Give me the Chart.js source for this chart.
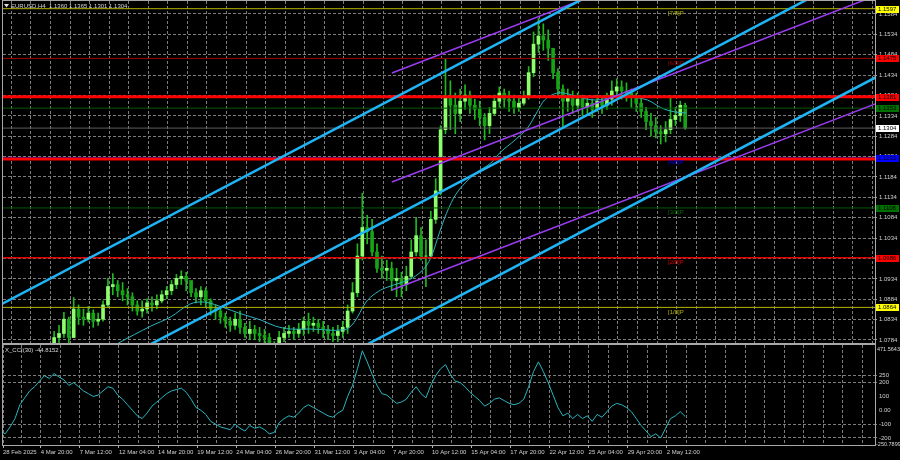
<!DOCTYPE html>
<html>
<head>
<meta charset="utf-8">
<script src="https://cdn.jsdelivr.net/npm/chart.js@4.4.0/dist/chart.umd.min.js"></script>
<style>
  html, body { margin: 0; padding: 0; background: #000; }
  #wrap { position: relative; width: 900px; height: 460px; overflow: hidden; background: #000; }
  canvas { position: absolute; left: 0; }
  #main { top: 0; }
  #cci { top: 344px; }
</style>
</head>
<body>
<div id="wrap">
  <canvas id="main" width="900" height="344"></canvas>
  <canvas id="cci" width="900" height="116"></canvas>
</div>
<script>
// velas de 8h (duas barras H4)
const firstOpen = 1.0385;
const closes = [
  1.0400,1.0395,1.0380,1.0420,1.0470,1.0485,1.0500,1.0560,1.0620,1.0640,
  1.0720,1.0790,1.0800,1.0835,1.0790,1.0860,1.0840,1.0835,1.0850,1.0830,
  1.0835,1.0870,1.0915,1.0920,1.0905,1.0895,1.0890,1.0870,1.0855,1.0860,
  1.0875,1.0870,1.0880,1.0895,1.0905,1.0920,1.0935,1.0940,1.0930,1.0900,
  1.0890,1.0905,1.0880,1.0860,1.0855,1.0840,1.0830,1.0820,1.0835,1.0815,
  1.0800,1.0810,1.0800,1.0795,1.0790,1.0770,1.0760,1.0790,1.0800,1.0805,
  1.0800,1.0810,1.0830,1.0820,1.0825,1.0815,1.0810,1.0800,1.0795,1.0805,
  1.0815,1.0855,1.0900,1.0990,1.1060,1.1050,1.1000,1.0960,1.0955,1.0960,
  1.0930,1.0935,1.0920,1.0940,1.1000,1.1040,1.0990,1.0990,1.1080,1.1150,
  1.1300,1.1380,1.1360,1.1340,1.1370,1.1385,1.1360,1.1350,1.1330,1.1310,
  1.1340,1.1370,1.1390,1.1375,1.1370,1.1355,1.1365,1.1380,1.1440,1.1510,
  1.1530,1.1520,1.1500,1.1440,1.1400,1.1370,1.1380,1.1360,1.1375,1.1355,
  1.1365,1.1350,1.1370,1.1360,1.1375,1.1395,1.1405,1.1395,1.1390,1.1380,
  1.1365,1.1345,1.1320,1.1310,1.1295,1.1290,1.1300,1.1325,1.1335,1.1360,
  1.1304
];
const highs = [
  1.0420,1.0415,1.0405,1.0430,1.0490,1.0500,1.0520,1.0580,1.0630,1.0665,
  1.0740,1.0805,1.0820,1.0852,1.0840,1.0888,1.0870,1.0860,1.0866,1.0858,
  1.0850,1.0880,1.0935,1.0947,1.0930,1.0925,1.0910,1.0900,1.0880,1.0880,
  1.0885,1.0890,1.0895,1.0905,1.0915,1.0930,1.0945,1.0954,1.0950,1.0925,
  1.0910,1.0915,1.0912,1.0885,1.0870,1.0865,1.0850,1.0840,1.0850,1.0855,
  1.0825,1.0830,1.0820,1.0815,1.0810,1.0800,1.0780,1.0805,1.0815,1.0820,
  1.0815,1.0825,1.0840,1.0850,1.0840,1.0835,1.0830,1.0820,1.0815,1.0820,
  1.0830,1.0870,1.0925,1.1020,1.1144,1.1090,1.1080,1.1020,1.0990,1.0980,
  1.0975,1.0960,1.0950,1.0965,1.1030,1.1085,1.1060,1.1030,1.1100,1.1180,
  1.1310,1.1473,1.1420,1.1390,1.1400,1.1410,1.1395,1.1375,1.1370,1.1340,
  1.1355,1.1385,1.1405,1.1400,1.1395,1.1385,1.1380,1.1395,1.1455,1.1540,
  1.1573,1.1560,1.1545,1.1500,1.1450,1.1410,1.1400,1.1395,1.1390,1.1385,
  1.1380,1.1375,1.1385,1.1380,1.1390,1.1420,1.1425,1.1420,1.1415,1.1400,
  1.1390,1.1375,1.1355,1.1340,1.1330,1.1310,1.1320,1.1378,1.1355,1.1370,
  1.1365
];
const lows = [
  1.0375,1.0370,1.0360,1.0375,1.0415,1.0455,1.0470,1.0495,1.0550,1.0600,
  1.0630,1.0715,1.0775,1.0790,1.0770,1.0790,1.0822,1.0820,1.0828,1.0815,
  1.0820,1.0830,1.0865,1.0895,1.0890,1.0880,1.0870,1.0855,1.0845,1.0840,
  1.0850,1.0855,1.0860,1.0875,1.0885,1.0895,1.0910,1.0920,1.0905,1.0890,
  1.0875,1.0870,1.0865,1.0845,1.0835,1.0825,1.0815,1.0805,1.0810,1.0800,
  1.0790,1.0785,1.0785,1.0780,1.0775,1.0755,1.0745,1.0760,1.0780,1.0790,
  1.0785,1.0790,1.0795,1.0800,1.0805,1.0800,1.0790,1.0785,1.0780,1.0780,
  1.0790,1.0800,1.0850,1.0890,1.0980,1.1020,1.0990,1.0950,1.0935,1.0930,
  1.0905,1.0890,1.0890,1.0905,1.0935,1.0990,1.0980,1.0915,1.0985,1.1070,
  1.1140,1.1290,1.1300,1.1290,1.1320,1.1350,1.1340,1.1325,1.1310,1.1275,
  1.1290,1.1335,1.1355,1.1355,1.1345,1.1340,1.1345,1.1360,1.1375,1.1430,
  1.1490,1.1495,1.1470,1.1425,1.1380,1.1307,1.1345,1.1340,1.1345,1.1335,
  1.1340,1.1330,1.1345,1.1340,1.1350,1.1360,1.1380,1.1375,1.1370,1.1355,
  1.1345,1.1330,1.1300,1.1285,1.1280,1.1265,1.1270,1.1290,1.1310,1.1320,
  1.1301
];

// média móvel (barra H4, preço)
const maBars = [40,49,62,70,78,84,92,98,107,113,119,127,141,145,150,154,158,164,169,174,
  177,180,184,188,195,201,205,211,216,220,223,227,231,238,244,251,258,265,271,276,281];
const maValues = [1.0745,1.0777,1.0818,1.0840,1.0872,1.0877,1.0863,1.0850,1.0833,1.0818,
  1.0811,1.0811,1.0809,1.0826,1.0877,1.0899,1.0912,1.0924,1.0936,1.0961,
  1.0993,1.1047,1.1110,1.1152,1.1194,1.1218,1.1245,1.1275,1.1304,1.1344,
  1.1373,1.1388,1.1390,1.1378,1.1373,1.1380,1.1380,1.1373,1.1353,1.1344,1.1341];

// CCI(30), um valor por vela de 8h
const cciValues = [
  -150,-170,-120,-60,40,90,140,170,210,250,
  230,265,240,220,180,200,170,140,120,100,
  110,140,170,160,110,80,40,0,-40,-60,
  -20,30,60,90,120,140,150,160,130,80,
  20,0,-30,-80,-100,-120,-130,-140,-100,-130,
  -150,-110,-130,-120,-140,-170,-160,-90,-60,-40,
  -50,-20,20,40,20,0,-20,-40,-50,-20,
  0,100,180,300,430,350,260,180,120,110,
  80,50,60,80,130,170,120,90,180,250,
  300,330,260,210,200,170,130,100,70,30,
  50,80,90,70,50,40,50,80,170,280,
  350,280,200,110,20,-40,-20,-60,-30,-60,
  -40,-80,-30,-50,-10,30,50,40,20,-10,
  -60,-110,-150,-190,-170,-200,-130,-60,-40,-10,
  -44.8
];
const cciName = 'X_CCI(30)';
const cciLast = -44.8152;
const cciMax = 471.5643;
const cciMin = -250.7899;
const cciTicks = [250, 200, 100, 0, -100, -200];
const cciLevels = [250, 200, -100, -200];

const title = 'EURUSD,H4  1.1360 1.1365 1.1301 1.1304';
const timeLabels = ['28 Feb 2025','4 Mar 20:00','7 Mar 12:00','12 Mar 04:00','14 Mar 20:00',
  '19 Mar 12:00','24 Mar 04:00','26 Mar 20:00','31 Mar 12:00','3 Apr 04:00','7 Apr 20:00',
  '10 Apr 12:00','15 Apr 04:00','17 Apr 20:00','22 Apr 12:00','25 Apr 04:00','29 Apr 20:00','2 May 12:00'];

// níveis de Murray e linhas horizontais
const murrayLevels = [1.0864, 1.0986, 1.1108, 1.1231, 1.1353, 1.1475, 1.1597];
const murrayNames = ['[1/8]P','[2/8]P','[3/8]P','[4/8]P','[5/8]P','[6/8]P','[7/8]P'];
const redLevels = [1.1381, 1.1228];
const bidPrice = 1.1304;

// canais: [barra, preço, barra, preço]
const cyanLines = [[0, 1.08687, 360, 1.20034], [0, 1.05783, 360, 1.17130], [0, 1.02988, 360, 1.14335]];
const purpleLines = [[160.6, 1.14392, 360, 1.19000], [160.6, 1.11717, 360, 1.16325], [160.6, 1.09067, 360, 1.13675]];

// estilos
const murrayColors = ['#b4b400','#e00000','#005a00','#0000ff','#005a00','#a00000','#b4b400'];
const murrayWidths = [1, 1.5, 1, 1, 1, 1, 1];
const murrayTagBg = ['#ffff00','#ff0000','#007000','#0000ff','#007000','#ff0000','#ffff00'];
const murrayTextShow = [true, true, true, true, false, true, true];
const FONT = 'Liberation Sans';
const xMin = 1.6, xMax = 358.1;
const labelBar = 273.5;

const opens = closes.map((c, k) => k === 0 ? firstOpen : closes[k - 1]);
const barX = k => 2 * k + 0.5;

function hline(v, color, width, order) {
  return { type: 'line', data: [{ x: xMin, y: v }, { x: xMax, y: v }], borderColor: color,
    borderWidth: width, pointRadius: 0, clip: 0, order: order };
}
function segLine(p, color, width, order) {
  return { type: 'line', data: [{ x: p[0], y: p[1] }, { x: p[2], y: p[3] }], borderColor: color,
    borderWidth: width, pointRadius: 0, clip: 0, order: order };
}
function gridTicks(withStart) {
  const t = withStart ? [{ value: xMin }] : [];
  for (let b = 9; b < xMax; b += 8) t.push({ value: b });
  return t;
}
function rotuloTempo(v) {
  if (v === xMin) return timeLabels[0];
  const i = (v - 1) / 16;
  return Number.isInteger(i) && i < timeLabels.length ? timeLabels[i] : '';
}

const datasets = [];
murrayLevels.forEach((v, i) => datasets.push(hline(v, murrayColors[i], murrayWidths[i], 7)));
datasets.push(hline(bidPrice, '#5c5c5c', 1, 7));
redLevels.forEach(v => datasets.push(hline(v, '#ff0000', 3, 6)));
purpleLines.forEach(p => datasets.push(segLine(p, '#9b3cf2', 1.5, 4)));
cyanLines.forEach(p => datasets.push(segLine(p, '#1fb4f5', 2.5, 3)));
datasets.push({
  type: 'line', data: maBars.map((b, i) => ({ x: b, y: maValues[i] })),
  borderColor: '#2ab5be', borderWidth: 1, pointRadius: 0, tension: 0.35, clip: 0, order: 9
});
datasets.push({
  type: 'bar', data: closes.map((c, k) => ({ x: barX(k), y: [lows[k], highs[k]] })),
  backgroundColor: '#1fb81f', barThickness: 1, grouped: false, clip: 0, order: 12
});
datasets.push({
  type: 'bar', data: closes.map((c, k) => ({ x: barX(k), y: [opens[k], c] })),
  backgroundColor: closes.map((c, k) => c >= opens[k] ? '#8dff6c' : '#16a416'),
  barThickness: 3, grouped: false, clip: 0, order: 11
});

const mainDecor = {
  id: 'mainDecor',
  afterDraw(chart) {
    const ctx = chart.ctx, a = chart.chartArea, y = chart.scales.y, x = chart.scales.x;
    ctx.save();
    // moldura
    ctx.strokeStyle = '#a8a8a8'; ctx.lineWidth = 1;
    ctx.strokeRect(a.left - 0.5, a.top - 0.5, a.right - a.left + 1, a.bottom - a.top + 1);
    ctx.font = '6px "' + FONT + '"';
    ctx.textBaseline = 'middle';
    // rótulos de Murray
    const lx = x.getPixelForValue(labelBar);
    murrayLevels.forEach((v, i) => {
      if (!murrayTextShow[i]) return;
      ctx.fillStyle = murrayColors[i] === '#005a00' ? '#0a6a0a' : murrayColors[i];
      ctx.textAlign = 'left';
      ctx.fillText(murrayNames[i], lx, y.getPixelForValue(v) + 4.5);
    });
    // etiquetas de preço
    const tags = murrayLevels.map((v, i) => [v, murrayTagBg[i]]);
    tags.push([redLevels[0], '#ff0000'], [bidPrice, '#ffffff']);
    tags.forEach(([v, bg]) => {
      const py = Math.round(y.getPixelForValue(v));
      ctx.fillStyle = bg;
      ctx.fillRect(a.right + 1, py - 3, 23, 7);
      ctx.fillStyle = '#000';
      ctx.textAlign = 'left';
      ctx.fillText(v.toFixed(4), a.right + 3, py + 0.5);
    });
    // título
    ctx.fillStyle = '#e0e0e0';
    ctx.beginPath(); ctx.moveTo(4, 4); ctx.lineTo(9, 4); ctx.lineTo(6.5, 7.5); ctx.closePath(); ctx.fill();
    ctx.fillStyle = '#d8d8d8';
    ctx.fillText(title, 11, 6);
    ctx.restore();
  }
};

new Chart(document.getElementById('main'), {
  type: 'bar',
  data: { datasets: datasets },
  options: {
    responsive: false, animation: false, devicePixelRatio: 1,
    layout: { padding: { left: 3, top: 1, right: 0, bottom: 0 } },
    plugins: { legend: { display: false }, tooltip: { enabled: false } },
    scales: {
      x: {
        type: 'linear', min: xMin, max: xMax, offset: false,
        afterBuildTicks: s => { s.ticks = gridTicks(false); },
        ticks: { display: false },
        grid: { color: '#7c7c7c', drawTicks: false, borderDash: [3, 2] },
        border: { display: false, dash: [3, 2] },
        afterFit: s => { s.height = 1; s.paddingLeft = 0; s.paddingRight = 0; }
      },
      y: {
        position: 'right', min: 1.07766, max: 1.16159,
        afterBuildTicks: s => {
          const t = [];
          for (let i = 0; i <= 16; i++) t.push({ value: 1.0784 + i * 0.005 });
          s.ticks = t;
        },
        ticks: { callback: v => v.toFixed(4), color: '#d0d0d0', font: { family: FONT, size: 6 }, padding: 2 },
        grid: { color: '#7c7c7c', tickLength: 2, tickColor: '#a0a0a0', borderDash: [3, 2] },
        border: { display: false, dash: [3, 2] },
        afterFit: s => { s.width = 25; s.paddingTop = 0; s.paddingBottom = 0; }
      }
    }
  },
  plugins: [mainDecor]
});

const cciDecor = {
  id: 'cciDecor',
  afterDraw(chart) {
    const ctx = chart.ctx, a = chart.chartArea;
    ctx.save();
    ctx.strokeStyle = '#a8a8a8'; ctx.lineWidth = 1;
    ctx.strokeRect(a.left - 0.5, a.top - 0.5, a.right - a.left + 1, a.bottom - a.top + 1);
    ctx.font = '6px "' + FONT + '"';
    ctx.textBaseline = 'middle'; ctx.textAlign = 'left';
    ctx.fillStyle = '#d8d8d8';
    ctx.fillText(cciName + ' ' + cciLast.toFixed(4), 5, a.top + 5);
    ctx.font = '5.5px "' + FONT + '"';
    ctx.fillText(cciMax.toFixed(4), a.right + 2, a.top + 4);
    ctx.fillText(cciMin.toFixed(4), a.right + 1, a.bottom - 1);
    ctx.restore();
  }
};

new Chart(document.getElementById('cci'), {
  type: 'line',
  data: {
    datasets: [{
      data: cciValues.map((v, k) => ({ x: barX(k), y: v })),
      borderColor: '#2ab5be', borderWidth: 1, pointRadius: 0, tension: 0, clip: 0
    }]
  },
  options: {
    responsive: false, animation: false, devicePixelRatio: 1,
    layout: { padding: { left: 3, top: 1, right: 0, bottom: 0 } },
    plugins: { legend: { display: false }, tooltip: { enabled: false } },
    scales: {
      x: {
        type: 'linear', min: xMin, max: xMax,
        afterBuildTicks: s => { s.ticks = gridTicks(true); },
        ticks: {
          callback: v => rotuloTempo(v), autoSkip: false, maxRotation: 0, minRotation: 0,
          align: 'start', padding: 1, color: '#d0d0d0', font: { family: FONT, size: 6 }
        },
        grid: {
          color: '#7c7c7c', tickLength: 3, borderDash: [3, 2], tickBorderDash: [],
          tickColor: c => (c.tick && rotuloTempo(c.tick.value)) ? '#b0b0b0' : 'rgba(0,0,0,0)'
        },
        border: { display: false, dash: [3, 2] },
        afterFit: s => { s.height = 15; s.paddingLeft = 0; s.paddingRight = 0; }
      },
      y: {
        position: 'right', min: cciMin, max: cciMax,
        afterBuildTicks: s => { s.ticks = cciTicks.map(v => ({ value: v })); },
        ticks: { callback: v => v === 0 ? '0.00' : String(v), color: '#d0d0d0', font: { family: FONT, size: 6 }, padding: 2 },
        grid: {
          color: c => (c.tick && cciLevels.includes(c.tick.value)) ? '#7c7c7c' : 'rgba(0,0,0,0)',
          tickLength: 2, borderDash: [3, 2]
        },
        border: { display: false, dash: [3, 2] },
        afterFit: s => { s.width = 25; s.paddingTop = 0; s.paddingBottom = 0; }
      }
    }
  },
  plugins: [cciDecor]
});
</script>
</body>
</html>
